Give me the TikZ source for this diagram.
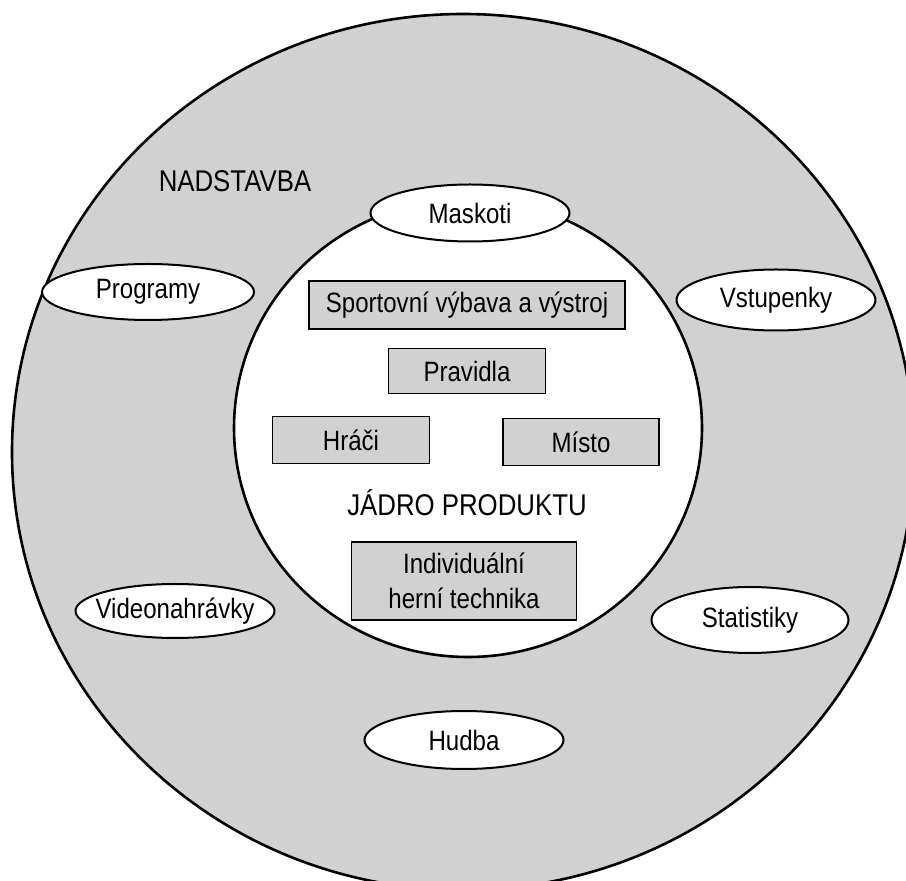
\documentclass[tikz,border=0pt]{standalone}
\usepackage{fontspec}
\setmainfont{Liberation Sans}[FakeStretch=0.86]
\usetikzlibrary{shapes.geometric,positioning}
\definecolor{stipple}{gray}{0.82}

\begin{document}
\begin{tikzpicture}[x=0.5pt,y=-0.5pt,
 ell/.style={draw,ellipse,fill=white,line width=1pt,inner xsep=-6pt,inner ysep=0pt,
 minimum width=99.5pt,minimum height=29pt,font=\fontsize{14}{17}\selectfont},
 box/.style={draw,fill=stipple,line width=0.8pt,inner sep=0pt,
 minimum height=23.5pt,align=center,font=\fontsize{14}{17.5}\selectfont},
 caps/.style={font=\fontsize{15}{18}\selectfont}]
\useasboundingbox (0,0) rectangle (906,881);
\clip (0,0) rectangle (906,881);
\fill[white] (0,0) rectangle (906,881);
% outer ring and core
\draw[fill=stipple,line width=1.3pt] (463,452) ellipse [x radius=225.5pt,y radius=219pt];
\draw[fill=white,line width=1.3pt] (468,428) ellipse [x radius=117pt,y radius=114.5pt];
\node[caps] (shell) at (235,181) {NADSTAVBA};
\node[ell,minimum height=28.5pt] (mascots) at (470,213) {Maskoti};
\node[ell,minimum width=106pt,minimum height=28pt] (programs) at (148,292) {Programy};
\node[ell,minimum height=30.5pt] (tickets) at (776,300) {Vstupenky};
\node[box,minimum width=158pt,minimum height=24pt] (gear) at (467,305) {Sportovní výbava a výstroj};
\node[box,minimum width=78.5pt,minimum height=22.5pt,below=9pt of gear] (rules) {Pravidla};
\node[box,minimum width=78.5pt] (players) at (351,440) {Hráči};
\node[box,minimum width=78pt] (venue) at (581,442) {Místo};
\node[caps] (core) at (467,503) {JÁDRO PRODUKTU};
\node[box,minimum width=112.5pt,minimum height=39pt] (skill) at (464,581) {Individuální\\herní technika};
\node[ell,minimum height=27pt] (videos) at (175,611) {Videonahrávky};
\node[ell,minimum width=98.5pt,minimum height=33pt] (stats) at (750,620) {Statistiky};
\node[ell] (music) at (464,740) {Hudba};
\end{tikzpicture}
\end{document}
